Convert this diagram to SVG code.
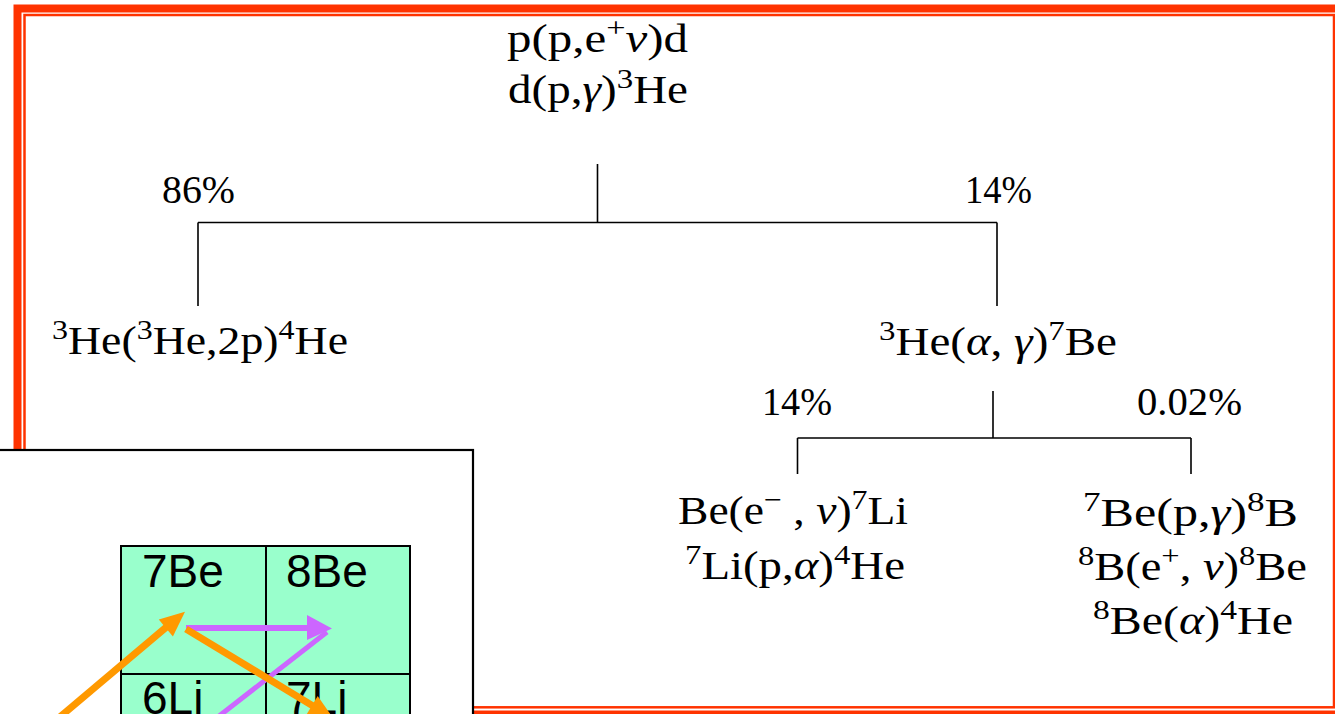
<svg xmlns="http://www.w3.org/2000/svg" width="1335" height="714" viewBox="0 0 1335 714">
  <style>
    .tex { font-family: "Liberation Serif", "DejaVu Serif", serif; font-size: 40px; fill: #000; }
    .sup { font-size: 28px; }
    .gr { font-style: italic; }
    .link { stroke: #000; stroke-width: 1.6; fill: none; }
    .frame { fill: none; stroke: #FF3300; }
    .cell { fill: #99FFCC; stroke: #000; stroke-width: 2; }
    .cellTxt { font-family: "Liberation Sans", Arial, sans-serif; font-size: 46px; fill: #000; }
  </style>

  <rect width="1335" height="714" fill="#fff"/>

  <!-- double slide frame -->
  <g id="frame">
    <rect class="frame" x="17.5" y="8.5" width="1340" height="706" stroke-width="8"/>
    <rect class="frame" x="24.5" y="15" width="1309.5" height="692.3" stroke-width="2.5"/>
  </g>

  <!-- branching connectors -->
  <g id="connectors">
    <path class="link" d="M597.5 164 V222.5 M198 222.5 H997 M198 222.5 V306 M997 222.5 V306"/>
    <path class="link" d="M993 391 V438 M797.5 438 H1191 M797.5 438 V474 M1191 438 V474"/>
  </g>

  <!-- pp chain start -->
  <g id="node-pp">
    <text class="tex" x="507" y="52" textLength="181" lengthAdjust="spacingAndGlyphs">p(p,e<tspan class="sup" baseline-shift="15">+</tspan><tspan class="gr">ν</tspan>)d</text>
    <text class="tex" x="508" y="103" textLength="180" lengthAdjust="spacingAndGlyphs">d(p,<tspan class="gr">γ</tspan>)<tspan class="sup" baseline-shift="15">3</tspan>He</text>
  </g>

  <g id="label-86">
    <text class="tex" x="162" y="203" textLength="73" lengthAdjust="spacingAndGlyphs">86%</text>
  </g>
  <g id="label-14a">
    <text class="tex" x="965" y="203" textLength="67" lengthAdjust="spacingAndGlyphs">14%</text>
  </g>

  <!-- ppI -->
  <g id="node-ppI">
    <text class="tex" x="52" y="354" textLength="296" lengthAdjust="spacingAndGlyphs"><tspan class="sup" baseline-shift="15">3</tspan>He(<tspan class="sup" baseline-shift="15">3</tspan>He,2p)<tspan class="sup" baseline-shift="15">4</tspan>He</text>
  </g>

  <!-- 3He + alpha -->
  <g id="node-he3alpha">
    <text class="tex" x="879" y="355" textLength="238" lengthAdjust="spacingAndGlyphs"><tspan class="sup" baseline-shift="15">3</tspan>He(<tspan class="gr">α</tspan>, <tspan class="gr">γ</tspan>)<tspan class="sup" baseline-shift="15">7</tspan>Be</text>
  </g>

  <g id="label-14b">
    <text class="tex" x="762" y="415" textLength="70" lengthAdjust="spacingAndGlyphs">14%</text>
  </g>
  <g id="label-002">
    <text class="tex" x="1137" y="415" textLength="105" lengthAdjust="spacingAndGlyphs">0.02%</text>
  </g>

  <!-- ppII -->
  <g id="node-ppII">
    <text class="tex" x="678" y="524" textLength="230" lengthAdjust="spacingAndGlyphs">Be(e<tspan class="sup" baseline-shift="15">−</tspan> , <tspan class="gr">ν</tspan>)<tspan class="sup" baseline-shift="15">7</tspan>Li</text>
    <text class="tex" x="685" y="579" textLength="220" lengthAdjust="spacingAndGlyphs"><tspan class="sup" baseline-shift="15">7</tspan>Li(p,<tspan class="gr">α</tspan>)<tspan class="sup" baseline-shift="15">4</tspan>He</text>
  </g>

  <!-- ppIII -->
  <g id="node-ppIII">
    <text class="tex" x="1083" y="526" textLength="215" lengthAdjust="spacingAndGlyphs"><tspan class="sup" baseline-shift="15">7</tspan>Be(p,<tspan class="gr">γ</tspan>)<tspan class="sup" baseline-shift="15">8</tspan>B</text>
    <text class="tex" x="1078" y="580" textLength="229" lengthAdjust="spacingAndGlyphs"><tspan class="sup" baseline-shift="15">8</tspan>B(e<tspan class="sup" baseline-shift="15">+</tspan>, <tspan class="gr">ν</tspan>)<tspan class="sup" baseline-shift="15">8</tspan>Be</text>
    <text class="tex" x="1093" y="634" textLength="200" lengthAdjust="spacingAndGlyphs"><tspan class="sup" baseline-shift="15">8</tspan>Be(<tspan class="gr">α</tspan>)<tspan class="sup" baseline-shift="15">4</tspan>He</text>
  </g>

  <!-- nuclide chart inset -->
  <g id="inset">
    <rect x="-5" y="450" width="478" height="300" fill="#fff" stroke="#000" stroke-width="2.2"/>
    <g id="cell-7Be">
      <rect class="cell" x="121" y="546" width="145" height="128"/>
      <text class="cellTxt" x="142" y="586.5">7Be</text>
    </g>
    <g id="cell-8Be">
      <rect class="cell" x="266" y="546" width="144" height="128"/>
      <text class="cellTxt" x="286" y="586.5">8Be</text>
    </g>
    <g id="cell-6Li">
      <rect class="cell" x="121" y="674" width="145" height="128"/>
      <text class="cellTxt" x="142" y="713.5">6Li</text>
    </g>
    <g id="cell-7Li">
      <rect class="cell" x="266" y="674" width="144" height="128"/>
      <text class="cellTxt" x="286" y="713.5">7Li</text>
    </g>

    <!-- reaction arrows -->
    <g id="arrows">
      <line x1="48" y1="727" x2="170" y2="624" stroke="#FF9900" stroke-width="7"/>
      <polygon points="185,611.7 172.9,636.4 158.8,619.6" fill="#FF9900"/>
      <line x1="186" y1="628" x2="312" y2="628" stroke="#CC66FF" stroke-width="6"/>
      <polygon points="307,615 307,640 332,628.5" fill="#CC66FF"/>
      <line x1="214" y1="720" x2="327" y2="632" stroke="#CC66FF" stroke-width="5"/>
      <line x1="186" y1="629" x2="318" y2="709" stroke="#FF9900" stroke-width="7"/>
      <polygon points="333.4,718.5 306.3,714.9 317.7,696.1" fill="#FF9900"/>
    </g>
  </g>
</svg>
